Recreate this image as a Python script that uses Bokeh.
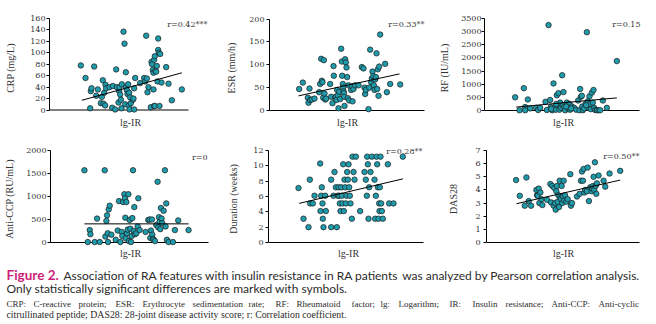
from bokeh.plotting import figure
from bokeh.layouts import column, row
from bokeh.models import Label, FixedTicker, Range1d
from bokeh.embed import file_html
from bokeh.resources import INLINE
from bokeh.core.properties import value

X_LABEL = "lg-IR"

# ---- CRP ----
crp_x = [0.94,1.08,1.22,1.24,1.26,1.34,1.40,1.45,1.54,1.57,
         1.60,1.62,1.64,1.67,1.68,1.70,1.80,1.88,1.90,1.97,
         2.00,2.02,2.07,2.09,2.10,2.12,2.14,2.16,2.17,2.22,
         2.25,2.27,2.29,2.30,2.32,2.34,2.36,2.38,2.39,2.40,
         2.42,2.44,2.50,2.52,2.54,2.54,2.57,2.72,2.84,2.87,
         2.90,2.92,2.94,2.97,3.04,3.06,3.08,3.10,3.12,3.12,
         3.14,3.14,3.16,3.16,3.18,3.20,3.22,3.24,3.26,3.26,
         3.28,3.30,3.32,3.36,3.50,3.57,3.67,3.97]
crp_y = [78,56,3,33,38,76,25,36,12,23,
         52,11,30,8,44,38,40,4,42,1,
         71,40,13,33,40,27,18,3,45,137,
         116,10,66,40,35,28,45,8,30,1,
         22,12,18,20,1,38,56,47,56,50,
         130,55,31,40,5,84,80,70,36,65,
         88,7,94,7,68,67,77,50,125,105,
         100,7,98,48,75,46,17,36]
crp_fit_x = [0.97, 3.97]
crp_fit_y = [17, 65]

# ---- ESR ----
esr_x = [0.89,1.00,1.15,1.17,1.20,1.22,1.27,1.35,1.49,1.52,
         1.55,1.57,1.59,1.61,1.63,1.65,1.67,1.70,1.82,1.85,
         1.89,1.92,1.93,1.97,1.99,2.01,2.03,2.05,2.07,2.09,
         2.12,2.15,2.17,2.18,2.20,2.21,2.22,2.23,2.24,2.25,
         2.27,2.29,2.31,2.33,2.35,2.37,2.39,2.45,2.47,2.49,
         2.52,2.57,2.67,2.77,2.82,2.85,2.87,2.89,2.97,2.99,
         3.02,3.05,3.07,3.09,3.11,3.13,3.15,3.17,3.19,3.21,
         3.23,3.25,3.27,3.29,3.32,3.47,3.52,3.62,3.92]
esr_y = [47,61,28,17,48,23,24,26,40,58,
         113,65,62,28,110,37,24,26,58,30,
         16,97,76,28,30,23,45,33,5,41,
         25,135,107,76,58,50,42,38,30,10,
         112,105,94,73,27,55,22,45,53,20,
         47,55,55,95,92,50,36,45,3,50,
         133,62,70,85,75,55,45,68,73,125,
         47,90,32,96,166,102,40,58,57]
esr_fit_x = [0.87, 3.90]
esr_fit_y = [32, 80]

# ---- RF ----
rf_x = [0.92,1.05,1.18,1.22,1.22,1.30,1.37,1.55,1.61,1.67,
        1.83,1.87,1.92,1.97,1.99,2.03,2.07,2.11,2.14,2.17,
        2.20,2.22,2.25,2.27,2.30,2.33,2.35,2.37,2.39,2.42,
        2.47,2.52,2.55,2.57,2.62,2.69,2.75,2.81,2.85,2.87,
        2.89,2.92,2.93,2.95,2.99,3.03,3.07,3.10,3.12,3.15,
        3.17,3.19,3.22,3.25,3.27,3.29,3.32,3.37,3.42,3.47,
        3.55,3.67,3.97,2.00,2.15,2.45,3.05,2.60]
rf_y = [500,10,850,130,10,420,80,100,20,100,
        330,20,3250,400,130,10,1030,100,30,580,
        200,660,30,300,100,1340,200,700,130,10,
        300,60,250,30,150,100,30,380,10,820,
        520,560,150,10,80,250,2980,350,100,540,
        250,50,680,300,780,100,20,10,10,10,
        380,100,1880,60,250,150,200,80]
rf_fit_x = [0.95, 3.97]
rf_fit_y = [130, 480]

# ---- Anti-CCP ----
ccp_x = [1.02,1.12,1.18,1.20,1.33,1.40,1.48,1.63,1.65,1.68,
         1.70,1.72,1.73,1.75,1.78,1.83,1.96,2.02,2.06,2.10,
         2.14,2.16,2.18,2.22,2.24,2.25,2.26,2.28,2.30,2.32,
         2.34,2.36,2.38,2.40,2.42,2.44,2.46,2.48,2.50,2.52,
         2.54,2.58,2.62,2.64,2.68,2.86,2.94,2.98,3.00,3.02,
         3.05,3.06,3.08,3.10,3.14,3.18,3.22,3.24,3.26,3.28,
         3.30,3.32,3.34,3.36,3.40,3.44,3.46,3.48,3.50,3.55,
         3.68,3.74,3.84,4.15]
ccp_y = [1570,10,270,180,10,520,10,1570,130,470,
         590,200,10,720,800,170,60,260,900,10,
         230,140,880,1050,960,540,90,880,200,280,
         1050,30,490,300,10,140,530,1570,250,770,
         180,200,350,960,270,230,490,500,100,260,
         500,170,80,60,30,380,1320,330,550,450,
         290,750,520,420,690,1570,350,850,60,10,
         10,270,480,270]
ccp_fit_x = [1.02, 4.15]
ccp_fit_y = [405, 405]

# ---- Duration ----
dur_x = [0.90,1.05,1.20,1.24,1.25,1.33,1.38,1.55,1.60,1.58,
         1.62,1.56,1.63,1.65,1.70,1.72,1.88,1.88,1.95,1.98,
         2.02,2.05,2.08,2.10,2.12,2.14,2.16,2.18,2.20,2.22,
         2.24,2.26,2.28,2.30,2.32,2.34,2.36,2.38,2.40,2.42,
         2.44,2.46,2.50,2.52,2.55,2.58,2.62,2.75,2.88,2.92,
         2.95,2.96,2.98,3.00,3.02,3.06,3.10,3.18,3.20,3.22,
         3.24,3.26,3.28,3.30,3.32,3.33,3.34,3.36,3.38,3.40,
         3.43,3.58,3.62,3.75,4.03]
dur_y = [7.1,3.1,2.0,8.2,5.1,5.1,6.1,10.3,7.2,6.1,
         5.1,4.1,3.1,2.0,6.1,4.1,2.0,8.2,6.1,9.2,
         7.2,2.0,6.1,7.2,6.1,5.1,4.1,7.2,6.1,5.1,
         10.2,4.1,8.2,7.2,5.1,6.1,9.2,8.2,10.2,7.2,
         6.1,5.1,3.1,11.2,9.2,8.2,11.2,4.1,9.2,8.2,
         6.1,11.2,10.2,3.1,7.2,9.2,11.2,8.2,3.1,6.1,
         11.2,10.2,7.2,3.1,5.1,4.1,7.2,11.2,5.1,4.1,
         3.1,10.2,5.1,5.1,11.2]
dur_fit_x = [0.92, 4.03]
dur_fit_y = [5.1, 8.3]

# ---- DAS28 ----
das_x = [0.89,1.00,1.15,1.20,1.27,1.34,1.50,1.52,1.54,1.57,
         1.59,1.62,1.65,1.68,1.82,1.92,1.94,1.98,2.02,2.04,
         2.06,2.08,2.10,2.12,2.14,2.16,2.18,2.20,2.22,2.24,
         2.26,2.28,2.30,2.32,2.34,2.36,2.40,2.44,2.52,2.54,
         2.57,2.72,2.80,2.84,2.87,2.90,2.92,2.94,2.97,3.02,
         3.04,3.08,3.12,3.16,3.18,3.20,3.22,3.24,3.26,3.28,
         3.30,3.32,3.37,3.52,3.57,3.70,4.02]
das_y = [4.75,3.55,2.8,4.95,3.15,2.8,4.0,3.6,3.55,4.1,
         3.0,3.8,3.3,2.85,3.25,4.45,3.05,4.3,2.8,4.15,
         3.0,2.5,3.9,4.3,3.1,3.6,2.7,4.7,3.4,3.3,
         4.3,3.0,3.5,4.7,3.2,3.6,3.1,3.3,5.2,2.8,
         3.0,3.5,3.7,4.7,5.4,4.7,5.6,3.8,4.0,3.9,
         5.7,3.15,4.2,3.9,4.1,4.3,5.0,4.0,6.1,4.3,
         3.7,4.5,5.1,4.7,4.25,5.25,5.45]
das_fit_x = [0.90, 4.02]
das_fit_y = [2.95, 4.75]

# caption text
caption_tag = "Figure 2."
caption_line1a = "Association of RA features with insulin resistance in RA patients"
caption_line1b = "was analyzed by Pearson correlation analysis."
caption_line2 = "Only statistically significant differences are marked with symbols."
caption_line3 = ["CRP:", "C-reactive", "protein;", "ESR:", "Erythrocyte", "sedimentation", "rate;", "RF:",
                 "Rheumatoid", "factor;", "lg:", "Logarithm;", "IR:", "Insulin", "resistance;", "Anti-CCP:",
                 "Anti-cyclic"]
caption_line4 = "citrullinated peptide; DAS28: 28-joint disease activity score; r: Correlation coefficient."

# layout positions (pixels) for the justified caption line
line3_pos = [6, 33, 78, 115, 142, 192, 248, 275, 296, 351, 380, 398, 449, 472, 505, 551, 598]

DOT_FILL = "#1f9bab"
DOT_LINE = "#1a1a1a"
TXT = "#333333"
SERIF_TICK = "DejaVu Serif"
SERIF_LABEL = "Liberation Serif"


def make_panel(width, height, left, top, data_w, data_h, xmax, ymax, ystep, ylabel,
               xs, ys, fx, fy, r_text, r_right, r_cy, xl_cx, xl_cy,
               tick_standoff, ylab_standoff):
    """Pixel arguments are relative to this figure's own canvas."""
    upx = xmax / data_w
    upp = ymax / data_h

    def dx(px):
        return (px - left) * upx

    def dy(py):
        return ymax - (py - top) * upp

    p = figure(width=width, height=height, output_backend="svg", toolbar_location=None,
               x_range=Range1d(0, dx(width)), y_range=Range1d(dy(height), dy(0)),
               x_axis_type=None,
               min_border_left=left, min_border_right=0,
               min_border_top=0, min_border_bottom=0)
    p.outline_line_color = None
    p.grid.visible = False
    p.background_fill_color = "white"
    p.border_fill_color = "white"

    yax = p.yaxis[0]
    ticks = []
    t = 0
    while t <= ymax:
        ticks.append(t)
        t += ystep
    yax.ticker = FixedTicker(ticks=ticks)
    yax.bounds = (0, ymax)
    yax.axis_line_color = "black"
    yax.major_tick_line_color = "black"
    yax.major_tick_out = 3
    yax.major_tick_in = 0
    yax.minor_tick_out = 0
    yax.minor_tick_in = 0
    yax.major_label_standoff = tick_standoff
    yax.major_label_text_font = SERIF_TICK
    yax.major_label_text_font_size = "8px"
    yax.major_label_text_color = TXT
    yax.axis_label = ylabel
    yax.axis_label_standoff = ylab_standoff
    yax.axis_label_text_font = SERIF_LABEL
    yax.axis_label_text_font_size = "10px"
    yax.axis_label_text_font_style = "normal"
    yax.axis_label_text_color = TXT

    # x axis line (no ticks in the original), spanning the axis range
    p.segment(x0=[0], y0=[0], x1=[xmax], y1=[0], line_color="black", line_width=1)
    p.scatter(xs, ys, size=5.5, fill_color=DOT_FILL, line_color=DOT_LINE, line_width=0.7)
    p.line(fx, fy, line_color="black", line_width=1)

    p.add_layout(Label(x=dx(xl_cx), y=dy(xl_cy), text=X_LABEL,
                       text_align="center", text_baseline="middle",
                       text_font=SERIF_LABEL, text_font_size="10px", text_color=TXT))
    p.add_layout(Label(x=dx(r_right), y=dy(r_cy), text=r_text,
                       text_align="right", text_baseline="middle",
                       text_font=SERIF_TICK, text_font_size="8px", text_color=TXT))
    return p


p1 = make_panel(215, 135, 49, 18, 139, 91.5, 4.17, 160, 20, "CRP (mg/L)", crp_x, crp_y,
                crp_fit_x, crp_fit_y, "r=0.42***", 207, 24, 130, 122, 1, 11)
p2 = make_panel(215, 135, 54, 18.5, 155, 91.5, 4.65, 200, 50, "ESR (mm/h)", esr_x, esr_y,
                esr_fit_x, esr_fit_y, "r=0.33**", 209, 24, 132, 122, 2, 9)
p3 = make_panel(226, 135, 54, 18, 155, 92, 4.65, 3500, 500, "RF (IU/mL)", rf_x, rf_y,
                rf_fit_x, rf_fit_y, "r=0.15", 210, 24, 133, 122, 0, 8)
p4 = make_panel(215, 127, 50, 15, 158, 92, 4.75, 2000, 500, "Anti-CCP (RU/mL)", ccp_x, ccp_y,
                ccp_fit_x, ccp_fit_y, "r=0", 207, 22, 130, 118, 1, 8)
p5 = make_panel(215, 127, 53, 15, 155, 92, 4.65, 12, 2, "Duration (weeks)", dur_x, dur_y,
                dur_fit_x, dur_fit_y, "r=0.28**", 207, 16, 133, 118, 2, 11)
p6 = make_panel(226, 127, 56, 15, 153, 92, 4.60, 7, 1, "DAS28", das_x, das_y,
                das_fit_x, das_fit_y, "r=0.50**", 209, 21, 133, 118, 3, 13)

cap = figure(width=656, height=62, output_backend="svg", toolbar_location=None,
             x_range=Range1d(0, 656), y_range=Range1d(62, 0),
             x_axis_type=None, y_axis_type=None, min_border=0)
cap.outline_line_color = None
cap.grid.visible = False
SANS = "Lato"
CAP_TXT = "#2b2b2b"
cap.text(x=[6], y=[12.5], text=[caption_tag], text_font=value(SANS), text_font_style="bold",
         text_font_size="13.5px", text_color="#cc1f7a", text_baseline="middle")
cap.text(x=[63], y=[12.5], text=[caption_line1a], text_font=value(SANS),
         text_font_size="12px", text_color=CAP_TXT, text_baseline="middle")
cap.text(x=[639], y=[12.5], text=[caption_line1b], text_font=value(SANS), text_align="right",
         text_font_size="12px", text_color=CAP_TXT, text_baseline="middle")
cap.text(x=[6], y=[25.5], text=[caption_line2], text_font=value(SANS),
         text_font_size="12px", text_color=CAP_TXT, text_baseline="middle")
cap.text(x=line3_pos, y=[41] * len(line3_pos), text=caption_line3, text_font=value("Liberation Serif"),
         text_font_size="9px", text_color=CAP_TXT, text_baseline="middle")
cap.text(x=[6], y=[51.5], text=[caption_line4], text_font=value("Liberation Serif"),
         text_font_size="9.8px", text_color=CAP_TXT, text_baseline="middle")

layout = column(row(p1, p2, p3), row(p4, p5, p6), cap)
open("out.html", "w").write(file_html(layout, INLINE))
